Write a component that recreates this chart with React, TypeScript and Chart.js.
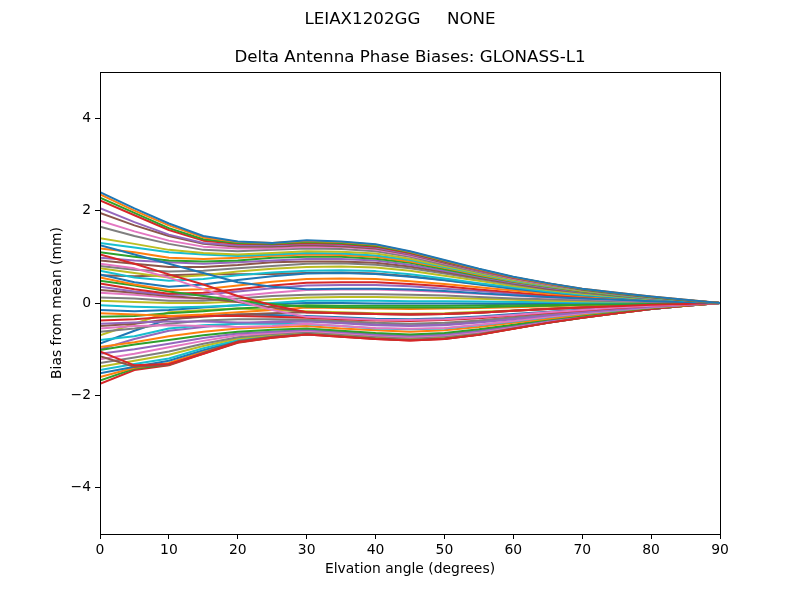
import React, { useEffect, useRef } from "react";
import { Chart, registerables } from "chart.js";

Chart.register(...registerables);

const suptitleText = "LEIAX1202GG     NONE";
const titleText = "Delta Antenna Phase Biases: GLONASS-L1";
const xLabel = "Elvation angle (degrees)";
const yLabel = "Bias from mean (mm)";

const elevations = [0, 5, 10, 15, 20, 25, 30, 35, 40, 45, 50, 55, 60, 65, 70, 75, 80, 85, 90];
const xTicks = [0, 10, 20, 30, 40, 50, 60, 70, 80, 90];
const yTicks = [-4, -2, 0, 2, 4];

const palette = ["#1f77b4", "#ff7f0e", "#2ca02c", "#d62728", "#9467bd", "#8c564b", "#e377c2", "#7f7f7f", "#bcbd22", "#17becf"];

const biases: number[][] = [
  [2.40, 2.05, 1.72, 1.45, 1.33, 1.30, 1.36, 1.33, 1.27, 1.12, 0.93, 0.74, 0.57, 0.43, 0.31, 0.22, 0.14, 0.07, 0],
  [2.35, 2.00, 1.68, 1.42, 1.32, 1.30, 1.34, 1.32, 1.26, 1.11, 0.92, 0.73, 0.56, 0.42, 0.31, 0.22, 0.14, 0.07, 0],
  [2.28, 1.95, 1.62, 1.38, 1.30, 1.28, 1.32, 1.30, 1.24, 1.10, 0.91, 0.73, 0.56, 0.42, 0.30, 0.21, 0.13, 0.06, 0],
  [2.22, 1.90, 1.58, 1.35, 1.28, 1.27, 1.30, 1.28, 1.22, 1.08, 0.90, 0.72, 0.55, 0.42, 0.30, 0.21, 0.13, 0.06, 0],
  [2.05, 1.75, 1.48, 1.30, 1.25, 1.25, 1.28, 1.26, 1.20, 1.06, 0.89, 0.71, 0.55, 0.41, 0.30, 0.21, 0.13, 0.06, 0],
  [1.95, 1.68, 1.45, 1.28, 1.22, 1.22, 1.25, 1.23, 1.18, 1.05, 0.87, 0.70, 0.54, 0.41, 0.29, 0.20, 0.13, 0.06, 0],
  [1.78, 1.55, 1.35, 1.22, 1.18, 1.18, 1.22, 1.21, 1.16, 1.03, 0.86, 0.69, 0.53, 0.40, 0.29, 0.20, 0.13, 0.06, 0],
  [1.65, 1.45, 1.28, 1.15, 1.12, 1.15, 1.18, 1.17, 1.12, 1.00, 0.83, 0.67, 0.52, 0.39, 0.28, 0.19, 0.12, 0.06, 0],
  [1.40, 1.28, 1.15, 1.08, 1.05, 1.08, 1.12, 1.11, 1.07, 0.96, 0.80, 0.65, 0.50, 0.38, 0.27, 0.19, 0.12, 0.06, 0],
  [1.30, 1.20, 1.10, 1.05, 1.02, 1.05, 1.08, 1.07, 1.03, 0.93, 0.78, 0.63, 0.48, 0.37, 0.27, 0.18, 0.11, 0.05, 0],
  [1.25, 1.05, 0.85, 0.65, 0.45, 0.35, 0.30, 0.31, 0.31, 0.29, 0.26, 0.21, 0.17, 0.13, 0.10, 0.07, 0.04, 0.02, 0],
  [1.18, 1.10, 0.98, 0.95, 0.98, 1.02, 1.05, 1.04, 1.00, 0.90, 0.76, 0.61, 0.47, 0.36, 0.26, 0.18, 0.11, 0.05, 0],
  [1.10, 1.00, 0.92, 0.90, 0.92, 0.98, 1.00, 1.00, 0.96, 0.87, 0.73, 0.59, 0.46, 0.35, 0.25, 0.17, 0.11, 0.05, 0],
  [1.05, 0.85, 0.62, 0.40, 0.15, -0.05, -0.20, -0.22, -0.24, -0.25, -0.24, -0.21, -0.17, -0.13, -0.10, -0.07, -0.04, -0.02, 0],
  [0.98, 0.92, 0.88, 0.85, 0.88, 0.92, 0.95, 0.95, 0.92, 0.83, 0.70, 0.57, 0.44, 0.33, 0.24, 0.17, 0.10, 0.05, 0],
  [0.92, 0.85, 0.78, 0.78, 0.82, 0.88, 0.90, 0.90, 0.87, 0.79, 0.67, 0.54, 0.42, 0.31, 0.23, 0.16, 0.10, 0.05, 0],
  [0.85, 0.75, 0.55, 0.30, 0.05, -0.15, -0.30, -0.33, -0.36, -0.37, -0.35, -0.31, -0.26, -0.20, -0.15, -0.10, -0.06, -0.03, 0],
  [0.80, 0.72, 0.68, 0.70, 0.75, 0.80, 0.85, 0.86, 0.83, 0.75, 0.64, 0.52, 0.40, 0.30, 0.22, 0.15, 0.09, 0.04, 0],
  [0.75, 0.65, 0.55, 0.60, 0.68, 0.74, 0.78, 0.79, 0.77, 0.70, 0.59, 0.48, 0.37, 0.28, 0.20, 0.14, 0.08, 0.04, 0],
  [0.70, 0.55, 0.48, 0.52, 0.60, 0.66, 0.70, 0.71, 0.69, 0.62, 0.53, 0.43, 0.34, 0.25, 0.18, 0.13, 0.08, 0.04, 0],
  [0.62, 0.45, 0.35, 0.40, 0.50, 0.58, 0.64, 0.65, 0.63, 0.57, 0.49, 0.40, 0.31, 0.23, 0.17, 0.12, 0.07, 0.03, 0],
  [0.55, 0.40, 0.28, 0.30, 0.38, 0.46, 0.52, 0.53, 0.52, 0.47, 0.41, 0.34, 0.27, 0.20, 0.15, 0.10, 0.06, 0.03, 0],
  [0.48, 0.38, 0.25, 0.15, 0.05, -0.02, -0.08, -0.09, -0.10, -0.10, -0.10, -0.09, -0.07, -0.06, -0.04, -0.03, -0.02, -0.01, 0],
  [0.42, 0.30, 0.20, 0.22, 0.30, 0.38, 0.44, 0.45, 0.45, 0.41, 0.36, 0.29, 0.23, 0.17, 0.13, 0.09, 0.05, 0.02, 0],
  [0.35, 0.25, 0.18, 0.18, 0.25, 0.32, 0.38, 0.39, 0.39, 0.36, 0.31, 0.26, 0.20, 0.15, 0.11, 0.08, 0.05, 0.02, 0],
  [0.28, 0.22, 0.15, 0.10, 0.02, -0.10, -0.20, -0.22, -0.24, -0.25, -0.24, -0.21, -0.17, -0.13, -0.10, -0.07, -0.04, -0.02, 0],
  [0.22, 0.18, 0.12, 0.10, 0.15, 0.22, 0.28, 0.29, 0.29, 0.27, 0.24, 0.20, 0.16, 0.12, 0.09, 0.06, 0.04, 0.02, 0],
  [0.12, 0.10, 0.05, 0.05, 0.10, 0.15, 0.18, 0.19, 0.19, 0.18, 0.16, 0.13, 0.10, 0.08, 0.06, 0.04, 0.02, 0.01, 0],
  [0.05, 0.02, 0.00, 0.00, 0.03, 0.08, 0.12, 0.13, 0.13, 0.12, 0.11, 0.09, 0.07, 0.05, 0.04, 0.03, 0.02, 0.01, 0],
  [-0.05, -0.08, -0.10, -0.08, -0.05, 0.00, 0.05, 0.05, 0.05, 0.04, 0.04, 0.03, 0.02, 0.02, 0.01, 0.01, 0.00, 0.00, 0],
  [-0.15, -0.18, -0.15, -0.10, -0.05, -0.02, 0.00, 0.00, -0.01, -0.01, -0.01, -0.01, -0.01, 0.00, 0.00, 0.00, 0.00, 0.00, 0],
  [-0.22, -0.25, -0.28, -0.25, -0.20, -0.15, -0.10, -0.11, -0.12, -0.13, -0.12, -0.11, -0.09, -0.07, -0.05, -0.04, -0.02, -0.01, 0],
  [-0.30, -0.28, -0.22, -0.18, -0.12, -0.08, -0.05, -0.06, -0.06, -0.06, -0.06, -0.05, -0.04, -0.03, -0.02, -0.02, -0.01, 0.00, 0],
  [-0.38, -0.35, -0.30, -0.28, -0.28, -0.30, -0.32, -0.35, -0.38, -0.39, -0.37, -0.33, -0.27, -0.21, -0.16, -0.11, -0.06, -0.03, 0],
  [-0.45, -0.42, -0.40, -0.40, -0.42, -0.42, -0.40, -0.44, -0.48, -0.50, -0.48, -0.42, -0.35, -0.27, -0.20, -0.14, -0.08, -0.04, 0],
  [-0.50, -0.45, -0.35, -0.30, -0.25, -0.22, -0.20, -0.22, -0.24, -0.25, -0.24, -0.21, -0.17, -0.13, -0.10, -0.07, -0.04, -0.02, 0],
  [-0.55, -0.50, -0.48, -0.50, -0.52, -0.50, -0.45, -0.50, -0.54, -0.56, -0.54, -0.47, -0.39, -0.30, -0.22, -0.15, -0.09, -0.04, 0],
  [-0.62, -0.55, -0.45, -0.38, -0.35, -0.35, -0.36, -0.39, -0.43, -0.45, -0.43, -0.38, -0.31, -0.24, -0.18, -0.12, -0.07, -0.03, 0],
  [-0.70, -0.45, -0.20, -0.15, -0.12, -0.15, -0.18, -0.20, -0.22, -0.23, -0.22, -0.19, -0.16, -0.12, -0.09, -0.06, -0.04, -0.02, 0],
  [-0.80, -0.72, -0.55, -0.48, -0.45, -0.45, -0.46, -0.50, -0.55, -0.57, -0.55, -0.48, -0.40, -0.31, -0.23, -0.16, -0.09, -0.04, 0],
  [-0.88, -0.60, -0.35, -0.28, -0.25, -0.26, -0.28, -0.31, -0.34, -0.35, -0.33, -0.29, -0.24, -0.19, -0.14, -0.09, -0.06, -0.03, 0],
  [-0.95, -0.85, -0.72, -0.62, -0.55, -0.52, -0.50, -0.55, -0.59, -0.62, -0.59, -0.52, -0.43, -0.34, -0.25, -0.17, -0.10, -0.05, 0],
  [-1.02, -0.90, -0.80, -0.70, -0.62, -0.58, -0.55, -0.60, -0.65, -0.68, -0.65, -0.57, -0.47, -0.36, -0.27, -0.18, -0.11, -0.05, 0],
  [-1.05, -1.35, -1.32, -1.10, -0.85, -0.75, -0.68, -0.73, -0.78, -0.81, -0.78, -0.69, -0.56, -0.43, -0.32, -0.22, -0.13, -0.06, 0],
  [-1.10, -1.00, -0.88, -0.76, -0.66, -0.62, -0.58, -0.63, -0.68, -0.71, -0.68, -0.60, -0.49, -0.38, -0.28, -0.19, -0.12, -0.05, 0],
  [-1.15, -1.38, -1.34, -1.08, -0.83, -0.73, -0.67, -0.72, -0.77, -0.80, -0.77, -0.68, -0.55, -0.43, -0.32, -0.22, -0.13, -0.06, 0],
  [-1.22, -1.10, -0.96, -0.82, -0.70, -0.65, -0.60, -0.65, -0.70, -0.73, -0.70, -0.62, -0.51, -0.39, -0.29, -0.20, -0.12, -0.05, 0],
  [-1.30, -1.18, -1.05, -0.88, -0.74, -0.67, -0.62, -0.67, -0.72, -0.75, -0.72, -0.64, -0.52, -0.40, -0.30, -0.20, -0.12, -0.06, 0],
  [-1.38, -1.25, -1.12, -0.93, -0.77, -0.69, -0.63, -0.68, -0.73, -0.76, -0.73, -0.65, -0.53, -0.41, -0.30, -0.21, -0.12, -0.06, 0],
  [-1.45, -1.32, -1.20, -0.98, -0.80, -0.70, -0.64, -0.69, -0.74, -0.77, -0.74, -0.65, -0.53, -0.41, -0.31, -0.21, -0.13, -0.06, 0],
  [-1.52, -1.38, -1.25, -1.02, -0.82, -0.72, -0.65, -0.70, -0.75, -0.78, -0.75, -0.66, -0.54, -0.42, -0.31, -0.21, -0.13, -0.06, 0],
  [-1.60, -1.40, -1.30, -1.05, -0.84, -0.73, -0.66, -0.71, -0.76, -0.79, -0.76, -0.67, -0.55, -0.42, -0.31, -0.22, -0.13, -0.06, 0],
  [-1.68, -1.42, -1.33, -1.08, -0.85, -0.74, -0.67, -0.72, -0.77, -0.80, -0.77, -0.68, -0.55, -0.43, -0.32, -0.22, -0.13, -0.06, 0],
  [-1.75, -1.45, -1.35, -1.10, -0.86, -0.75, -0.68, -0.73, -0.78, -0.81, -0.78, -0.69, -0.56, -0.43, -0.32, -0.22, -0.13, -0.06, 0],
  [-1.00, -0.78, -0.60, -0.52, -0.45, -0.40, -0.38, -0.42, -0.46, -0.48, -0.46, -0.40, -0.33, -0.26, -0.19, -0.13, -0.08, -0.04, 0],
  [0.60, 0.58, 0.60, 0.62, 0.62, 0.63, 0.65, 0.66, 0.64, 0.58, 0.50, 0.41, 0.32, 0.24, 0.17, 0.12, 0.07, 0.03, 0],
];

const FONT = "'DejaVu Sans', sans-serif";

const textPlugin = {
  id: "mplText",
  afterDraw(chart: any) {
    const { ctx, chartArea } = chart;
    const cx = (chartArea.left + chartArea.right) / 2;
    ctx.save();
    // frame (matplotlib spines)
    ctx.strokeStyle = "#000";
    ctx.lineWidth = 1;
    ctx.strokeRect(Math.round(chartArea.left) + 0.5, Math.round(chartArea.top) + 0.5,
      Math.round(chartArea.right - chartArea.left), Math.round(chartArea.bottom - chartArea.top));
    ctx.fillStyle = "#000";
    ctx.textAlign = "center";
    ctx.textBaseline = "middle";
    ctx.font = `16.7px ${FONT}`;
    ctx.fillText(suptitleText, 400, 20);
    ctx.fillText(titleText, cx, 58);
    ctx.font = `13.9px ${FONT}`;
    ctx.fillText(xLabel, cx, 569);
    ctx.translate(57, (chartArea.top + chartArea.bottom) / 2);
    ctx.rotate(-Math.PI / 2);
    ctx.fillText(yLabel, 0, 0);
    ctx.restore();
  },
};

export default function App() {
  const ref = useRef<HTMLCanvasElement | null>(null);
  useEffect(() => {
    if (!ref.current) return;
    const datasets = biases.map((vals, i) => ({
      label: `az${i}`,
      data: vals.map((v, j) => ({ x: elevations[j], y: v })),
      borderColor: palette[i % palette.length],
      backgroundColor: palette[i % palette.length],
      borderWidth: 2,
      pointRadius: 0,
      borderJoinStyle: "round" as const,
      tension: 0,
      fill: false,
    }));
    const chart = new Chart(ref.current, {
      type: "line",
      data: { datasets },
      plugins: [textPlugin],
      options: {
        responsive: false,
        animation: false,
        events: [],
        layout: { padding: { left: 0, right: 80, top: 72, bottom: 0 } },
        plugins: { legend: { display: false }, tooltip: { enabled: false }, title: { display: false } },
        scales: {
          x: {
            type: "linear",
            min: 0,
            max: 90,
            afterFit: (s: any) => { s.height = 66; },
            afterBuildTicks: (s: any) => { s.ticks = xTicks.map((v) => ({ value: v })); },
            grid: { display: true, drawOnChartArea: false, drawTicks: true, tickLength: 5, color: "#000", tickWidth: 1 },
            border: { display: true, color: "#000", width: 1 },
            ticks: { color: "#000", font: { family: FONT, size: 13.9 }, padding: 3, maxRotation: 0, autoSkip: false },
          },
          y: {
            type: "linear",
            min: -5,
            max: 5,
            afterFit: (s: any) => { s.width = 100; },
            afterBuildTicks: (s: any) => { s.ticks = yTicks.map((v) => ({ value: v })); },
            grid: { display: true, drawOnChartArea: false, drawTicks: true, tickLength: 5, color: "#000", tickWidth: 1 },
            border: { display: true, color: "#000", width: 1 },
            ticks: {
              color: "#000",
              font: { family: FONT, size: 13.9 },
              padding: 4,
              autoSkip: false,
              callback: (v: any) => String(v).replace("-", "\u2212"),
            },
          },
        },
      },
    });
    return () => chart.destroy();
  }, []);
  return (
    <div style={{ position: "absolute", left: 0, top: 0, width: 800, height: 600, background: "#fff" }}>
      <canvas ref={ref} width={800} height={600} style={{ width: 800, height: 600 }} />
    </div>
  );
}
